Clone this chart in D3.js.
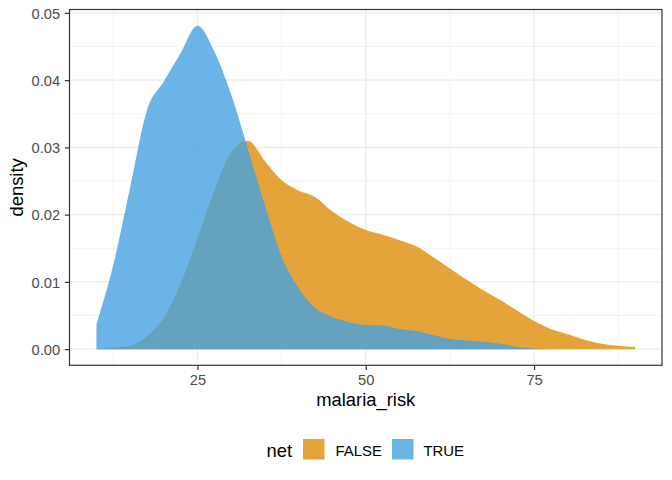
<!DOCTYPE html>
<html><head><meta charset="utf-8">
<script src="https://cdn.jsdelivr.net/npm/d3@7"></script>
<style>body{margin:0;background:#fff}svg{display:block}text{font-family:"Liberation Sans",Arial,Helvetica,sans-serif}</style>
</head><body><svg id="c" width="672" height="480"></svg>
<script>
const xs = [10,12.5,15,17.5,20,22.5,25,27.5,30,32.5,35,37.5,40,42.5,45,47.5,50,52.5,55,57.5,60,62.5,65,67.5,70,72.5,75,77.5,80,82.5,85,87.5,90];
const densFalse = [0.0000,0.0002,0.0005,0.0019,0.0047,0.0097,0.0165,0.0235,0.0293,0.0310,0.0280,0.0251,0.0236,0.0226,0.0205,0.0189,0.0177,0.0170,0.0162,0.0153,0.0137,0.0120,0.0103,0.0087,0.0073,0.0057,0.0042,0.0030,0.0022,0.0014,0.0008,0.0005,0.0003];
const densTrue = [0.0037,0.0125,0.0240,0.0355,0.0398,0.0440,0.0481,0.0443,0.0379,0.0298,0.0215,0.0138,0.0091,0.0061,0.0048,0.0040,0.0036,0.0035,0.0030,0.0027,0.0021,0.0015,0.0013,0.0011,0.0008,0.0003,0.0001,0.0000];
const groups = ["FALSE","TRUE"];
const colors = ["#DE8D09","#45A1E2"];
const xTicks = [25,50,75];
const xMinor = [12.5,37.5,62.5,87.5];
const yTicks = [0,0.01,0.02,0.03,0.04,0.05];
const yMinor = [0.005,0.015,0.025,0.035,0.045];

const svg = d3.select("#c");
const L = 69.5, R = 662, T = 9.5, B = 365.3;
const x = d3.scaleLinear().domain([6,94]).range([L,R]);
const yMax = 0.0481;
const y = d3.scaleLinear().domain([-0.05*yMax, 1.05*yMax]).range([B,T]);
const alpha = 0.8;

const g = svg.append("g");
// grid
g.selectAll(".xm").data(xMinor).enter().append("line").attr("x1",d=>x(d)).attr("x2",d=>x(d)).attr("y1",T).attr("y2",B).attr("stroke","#EBEBEB").attr("stroke-width",0.6);
g.selectAll(".ym").data(yMinor).enter().append("line").attr("y1",d=>y(d)).attr("y2",d=>y(d)).attr("x1",L).attr("x2",R).attr("stroke","#EBEBEB").attr("stroke-width",0.6);
g.selectAll(".xM").data(xTicks).enter().append("line").attr("x1",d=>x(d)).attr("x2",d=>x(d)).attr("y1",T).attr("y2",B).attr("stroke","#EBEBEB").attr("stroke-width",1.2);
g.selectAll(".yM").data(yTicks).enter().append("line").attr("y1",d=>y(d)).attr("y2",d=>y(d)).attr("x1",L).attr("x2",R).attr("stroke","#EBEBEB").attr("stroke-width",1.2);

const series = [densFalse, densTrue];
series.forEach((vals,i)=>{
  const pts = vals.map((v,j)=>[xs[j],v]);
  const area = d3.area().x(d=>x(d[0])).y0(y(0)).y1(d=>y(d[1])).curve(d3.curveMonotoneX);
  g.append("path").datum(pts).attr("d",area).attr("fill",colors[i]).attr("fill-opacity",alpha);
});

// panel border
g.append("rect").attr("x",L).attr("y",T).attr("width",R-L).attr("height",B-T).attr("fill","none").attr("stroke","#333333").attr("stroke-width",1.2);

// axes
const xa = svg.append("g").attr("transform",`translate(0,${B})`).call(d3.axisBottom(x).tickValues(xTicks).tickSize(4.6).tickPadding(3.8).tickFormat(d3.format("d")));
const ya = svg.append("g").attr("transform",`translate(${L},0)`).call(d3.axisLeft(y).tickValues(yTicks).tickSize(4.6).tickPadding(4.8).tickFormat(d3.format(".2f")));
[xa,ya].forEach(a=>{
  a.select(".domain").remove();
  a.selectAll(".tick line").attr("stroke","#333333").attr("stroke-width",1.2);
  a.selectAll(".tick text").attr("fill","#4D4D4D").attr("font-size","14.7px");
});
xa.selectAll(".tick text").attr("dy","0.8em");
ya.selectAll(".tick text").attr("dy","0.36em");

// axis titles
svg.append("text").attr("x",(L+R)/2).attr("y",405.5).attr("text-anchor","middle").attr("font-size","18.4px").attr("fill","#000").text("malaria_risk");
svg.append("text").attr("transform",`translate(23,${(T+B)/2}) rotate(-90)`).attr("text-anchor","middle").attr("font-size","18.4px").attr("fill","#000").text("density");

// legend
const lg = svg.append("g");
lg.append("text").attr("x",266.5).attr("y",456.5).attr("font-size","18.4px").attr("fill","#000").text("net");
const keyX = [303, 392], labX = [335.5, 423.5];
groups.forEach((gname,i)=>{
  lg.append("rect").attr("x",keyX[i]).attr("y",439).attr("width",21.5).attr("height",20.5).attr("fill",colors[i]).attr("fill-opacity",alpha);
  lg.append("text").attr("x",labX[i]).attr("y",456.3).attr("font-size","14.9px").attr("fill","#000").text(gname);
});
</script></body></html>
